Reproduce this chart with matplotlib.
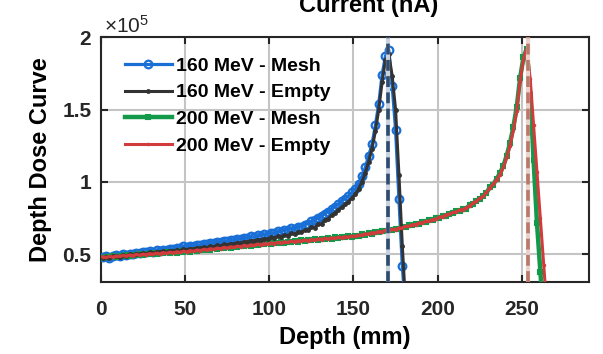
import numpy as np
import matplotlib
matplotlib.use('Agg')
import matplotlib.pyplot as plt

plt.rcParams['font.family'] = ['Liberation Sans', 'DejaVu Sans']
plt.rcParams['font.weight'] = 'bold'
plt.rcParams['mathtext.default'] = 'regular'

# depth dose values in units of 1e5, sampled every 2 mm starting at 1 mm
mesh160 = [0.480, 0.486, 0.478, 0.490, 0.494, 0.488, 0.500, 0.497, 0.506, 0.503,
           0.511, 0.508, 0.517, 0.514, 0.523, 0.520, 0.528, 0.526, 0.534, 0.531,
           0.540, 0.537, 0.546, 0.543, 0.555, 0.552, 0.560, 0.557, 0.566, 0.563,
           0.573, 0.569, 0.580, 0.576, 0.586, 0.583, 0.593, 0.590, 0.600, 0.597,
           0.608, 0.604, 0.616, 0.612, 0.624, 0.620, 0.632, 0.628, 0.640, 0.637,
           0.650, 0.646, 0.660, 0.656, 0.670, 0.667, 0.680, 0.678, 0.692, 0.690,
           0.705, 0.712, 0.728, 0.735, 0.752, 0.762, 0.782, 0.795, 0.812, 0.830,
           0.848, 0.868, 0.885, 0.905, 0.928, 0.952, 0.985, 1.040, 1.100, 1.180,
           1.260, 1.390, 1.540, 1.740, 1.870, 1.910, 1.660, 1.360, 0.880, 0.420,
           0.100]
empty160 = [0.476, 0.482, 0.475, 0.486, 0.490, 0.484, 0.495, 0.492, 0.500, 0.497,
            0.505, 0.501, 0.510, 0.506, 0.514, 0.510, 0.518, 0.514, 0.522, 0.518,
            0.526, 0.522, 0.531, 0.527, 0.537, 0.533, 0.541, 0.537, 0.546, 0.542,
            0.551, 0.547, 0.557, 0.553, 0.563, 0.559, 0.569, 0.565, 0.575, 0.572,
            0.582, 0.578, 0.589, 0.585, 0.596, 0.592, 0.603, 0.599, 0.610, 0.606,
            0.618, 0.613, 0.626, 0.621, 0.635, 0.630, 0.645, 0.640, 0.656, 0.652,
            0.668, 0.666, 0.688, 0.684, 0.712, 0.708, 0.740, 0.745, 0.772, 0.785,
            0.808, 0.825, 0.845, 0.865, 0.888, 0.915, 0.950, 1.000, 1.060, 1.140,
            1.230, 1.350, 1.500, 1.690, 1.840, 1.880, 1.730, 1.500, 1.050, 0.560,
            0.150]
mesh200 = [0.478, 0.485, 0.481, 0.488, 0.484, 0.492, 0.487, 0.495, 0.491, 0.498,
           0.494, 0.501, 0.497, 0.505, 0.500, 0.508, 0.503, 0.511, 0.507, 0.514,
           0.510, 0.517, 0.513, 0.521, 0.516, 0.524, 0.520, 0.529, 0.525, 0.533,
           0.529, 0.537, 0.534, 0.542, 0.538, 0.546, 0.542, 0.551, 0.547, 0.555,
           0.551, 0.560, 0.556, 0.564, 0.560, 0.568, 0.564, 0.573, 0.569, 0.577,
           0.573, 0.581, 0.577, 0.585, 0.581, 0.589, 0.585, 0.593, 0.589, 0.597,
           0.593, 0.601, 0.597, 0.605, 0.601, 0.609, 0.605, 0.613, 0.609, 0.617,
           0.613, 0.621, 0.617, 0.625, 0.621, 0.630, 0.628, 0.638, 0.636, 0.646,
           0.644, 0.654, 0.652, 0.662, 0.660, 0.670, 0.668, 0.678, 0.677, 0.689,
           0.689, 0.700, 0.700, 0.712, 0.712, 0.724, 0.723, 0.735, 0.735, 0.749,
           0.751, 0.766, 0.768, 0.782, 0.784, 0.798, 0.801, 0.815, 0.817, 0.840,
           0.849, 0.872, 0.881, 0.905, 0.925, 0.962, 0.982, 1.020, 1.060, 1.110,
           1.180, 1.270, 1.380, 1.520, 1.720, 1.860, 1.920, 1.600, 1.150, 0.720,
           0.380, 0.050]
empty200 = [0.484, 0.479, 0.487, 0.482, 0.490, 0.486, 0.493, 0.489, 0.497, 0.492,
            0.500, 0.495, 0.503, 0.498, 0.506, 0.502, 0.509, 0.505, 0.513, 0.508,
            0.516, 0.511, 0.519, 0.514, 0.522, 0.518, 0.527, 0.522, 0.531, 0.527,
            0.535, 0.531, 0.540, 0.535, 0.544, 0.540, 0.549, 0.544, 0.553, 0.549,
            0.557, 0.553, 0.562, 0.557, 0.566, 0.562, 0.571, 0.566, 0.575, 0.571,
            0.579, 0.575, 0.583, 0.579, 0.587, 0.583, 0.591, 0.587, 0.595, 0.591,
            0.599, 0.595, 0.603, 0.599, 0.607, 0.603, 0.611, 0.607, 0.615, 0.611,
            0.619, 0.615, 0.623, 0.619, 0.627, 0.624, 0.634, 0.632, 0.642, 0.640,
            0.650, 0.648, 0.658, 0.656, 0.666, 0.664, 0.674, 0.672, 0.683, 0.683,
            0.695, 0.694, 0.706, 0.706, 0.718, 0.718, 0.729, 0.729, 0.741, 0.744,
            0.757, 0.760, 0.774, 0.777, 0.790, 0.793, 0.807, 0.810, 0.823, 0.834,
            0.855, 0.866, 0.887, 0.900, 0.928, 0.958, 0.985, 1.015, 1.050, 1.100,
            1.170, 1.250, 1.360, 1.490, 1.700, 1.850, 1.920, 1.710, 1.390, 1.070,
            0.750, 0.430, 0.110]

peak160 = 170.7
peak200 = 253.4

labels = ['160 MeV - Mesh', '160 MeV - Empty', '200 MeV - Mesh', '200 MeV - Empty']


def depth_of(vals):
    return 1 + 2 * np.arange(len(vals))


fig = plt.figure(figsize=(6.03, 3.54), dpi=100)
ax = fig.add_axes([0.1675, 0.2034, 0.8095, 0.692])

ax.plot(depth_of(mesh160), mesh160, color='#1a6fd6', lw=2.3, marker='o', ms=5.5,
        mfc='none', mew=1.6, label=labels[0], zorder=3)
ax.plot(depth_of(empty160), empty160, color='#333333', lw=2.2, marker='.', ms=5,
        label=labels[1], zorder=4)
ax.plot(depth_of(mesh200), mesh200, color='#13994a', lw=3.2, marker='s', ms=3.5,
        mfc='none', mew=1.5, label=labels[2], zorder=3)
ax.plot(depth_of(empty200), empty200, color='#d23b3b', lw=2.2, marker='.', ms=3,
        label=labels[3], zorder=4)

# peak markers
ax.axvline(peak160, color='#c9d3e0', lw=3, zorder=5)
ax.axvline(peak160, color='#2f4b6e', lw=2.6, dashes=(3, 1.5), zorder=5)
ax.axvline(peak200, color='#ead3cd', lw=3, zorder=5)
ax.axvline(peak200, color='#b9786a', lw=2.6, dashes=(3, 1.5), zorder=5)

ax.set_xlim(0, 290)
ax.set_ylim(0.31, 2.0)
ax.set_xticks([0, 50, 100, 150, 200, 250])
ax.set_yticks([0.5, 1, 1.5, 2])
ax.set_yticklabels(['0.5', '1', '1.5', '2'])
ax.grid(True, color='#c4c4c4', lw=1.5)
ax.set_axisbelow(True)
for s in ax.spines.values():
    s.set_color('#262626')
    s.set_linewidth(1.5)
ax.tick_params(direction='in', length=5, width=1.5, top=True, right=True,
               labelsize=15, colors='#262626')
ax.tick_params(axis='x', pad=13)
ax.tick_params(axis='y', pad=7)

ax.set_xlabel('Depth (mm)', fontsize=17, fontweight='bold', labelpad=5)
ax.set_ylabel('Depth Dose Curve', fontsize=17, fontweight='bold', labelpad=7)

fig.text(104 / 603, 1 - 33 / 354, r'$\times10^{5}$', fontsize=15,
         fontweight='normal', va='baseline', color='#262626')
fig.text(369 / 603, 1 - 12 / 354, 'Current (nA)', fontsize=17,
         fontweight='bold', ha='center', va='baseline')

ax.legend(loc='upper left', bbox_to_anchor=(0.049, 0.918), frameon=False,
          fontsize=14, handlelength=2.4, handletextpad=0.25, labelspacing=0.47,
          borderaxespad=0, borderpad=0)

fig.savefig('out.png', dpi=100)
